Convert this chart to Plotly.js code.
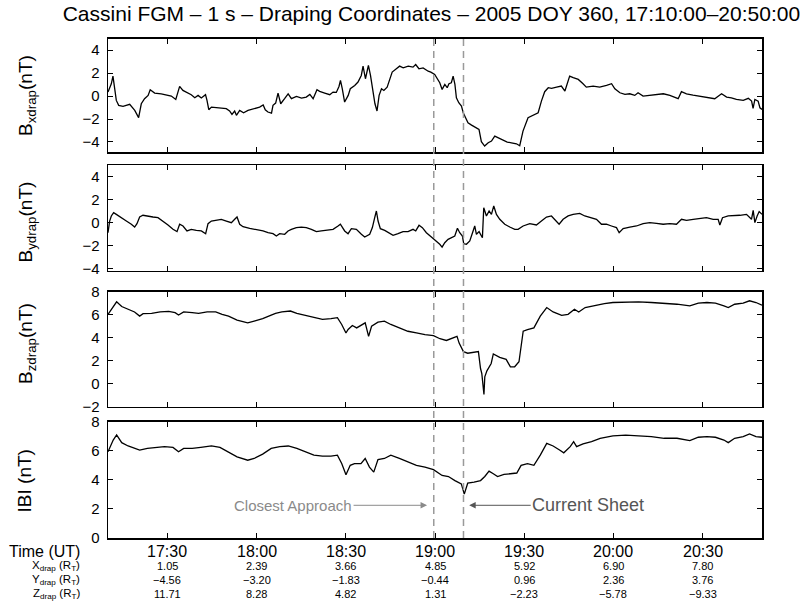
<!DOCTYPE html>
<html>
<head>
<meta charset="utf-8">
<script src="https://cdn.plot.ly/plotly-3.0.1.min.js"></script>
<style>html,body{margin:0;padding:0;background:#fff;}#chart{width:806px;height:612px;}</style>
</head>
<body>
<div id="chart"></div>
<script>
// ---- data (time in minutes after 17:10:00 UT, 2005 DOY 360) ----
const bxT = [0,1.12,1.68,2.8,3.6,5.05,7.3,9.0,10.3,11.2,12.3,13.5,14.2,15.7,17.9,19.6,21.3,22.8,24.1,25.2,26.9,28.0,29.2,30.3,31.4,32.8,33.3,33.9,34.8,37.0,39.8,40.9,41.7,42.6,43.2,44.3,45.6,47.1,48.8,51.0,52.2,52.9,53.8,55.0,55.5,56.4,57.2,58.1,59.4,60.6,61.7,63.4,65.1,66.7,67.9,69.0,70.3,71.2,72.9,74.6,75.7,76.8,77.7,78.2,78.8,79.6,80.8,81.5,83.0,84.1,85.2,85.8,86.6,86.9,87.6,88.3,88.9,89.8,90.5,91.2,92.0,92.8,93.9,94.8,95.6,97.0,98.1,99.3,101.0,102.6,103.5,104.6,106.0,107.7,108.6,109.9,110.5,111.6,112.4,113.3,114.1,114.7,115.5,116.1,116.7,117.2,118.0,118.9,119.5,120.4,121.1,122.3,123.4,124.8,125.6,126.7,127.9,129.0,130.1,131.2,132.9,134.3,135.7,137.4,138.5,139.6,141.3,143.0,144.7,145.8,146.9,148.1,149.2,150.9,152.5,153.7,154.2,155.3,156.5,158.2,159.8,160.9,163.2,165.4,167.7,169.4,170.5,172.2,173.9,175.5,177.2,178.3,180.0,182.3,184.5,186.8,189.0,191.8,192.9,194.6,196.8,199.1,201.3,204.1,206.4,208.1,209.7,211.4,213.7,215.4,216.5,217.0,217.6,218.7,219.3,220];
const bxV = [0.35,1.07,1.74,-0.38,-0.81,-0.9,-0.72,-1.25,-1.88,-0.67,-0.23,0.06,0.55,0.26,0.2,0.12,0,-0.29,0.84,0.49,0.26,0.12,-0.14,0.06,-0.17,0.12,-0.38,-1.19,-0.96,-1.04,-1.1,-1.3,-1.59,-1.3,-1.68,-1.25,-1.45,-1.25,-1.13,-0.96,-0.78,-1.19,-1.39,-1.48,-0.81,-0.61,0.26,-0.67,-0.23,0.2,-0.23,-0.03,-0.17,-0.09,0.14,-0.23,0.55,0.41,0.26,0.12,0.35,0.32,0.84,1.36,0.64,-0.52,0.06,0.64,0.93,1.22,1.8,2.61,1.51,1.94,2.67,1.8,0.78,-0.67,-1.3,0.06,0.64,0.49,0.78,1.51,2.09,2.38,2.61,2.46,2.61,2.52,2.75,2.38,2.46,2.17,2.09,1.88,1.6,1.16,0.58,1.02,0.73,1.08,1.16,1.74,1.02,-0.15,-0.58,-0.87,-1.45,-1.89,-2.33,-2.53,-2.7,-2.91,-3.98,-4.36,-4.07,-3.92,-3.49,-3.63,-3.87,-4.01,-4.07,-4.16,-4.33,-3.05,-1.89,-1.66,-1.45,-0.44,0.38,0.73,0.67,0.78,0.87,0.44,0.87,1.74,1.6,1.45,1.08,0.78,0.87,0.78,0.93,1.08,0.64,0.29,0.15,0.2,0.06,0.29,0,0.06,0.15,0.2,0.06,-0.23,0.38,0.2,0.09,0,-0.09,-0.23,0.2,-0.09,-0.15,-0.29,-0.38,-0.2,-0.44,-1.08,-0.29,-0.44,-1.02,-1.16];

const byT = [0,0.56,1.12,1.91,2.8,3.7,4.82,6.17,7.85,8.97,9.76,10.66,11.78,14.02,15.14,16.82,18.51,20.19,21.87,23.22,24.11,25.24,26.58,28.04,29.72,31.4,32.86,33.65,34.77,36.45,38.13,39.82,41.5,42.62,43.41,44.3,45.42,47.67,49.91,52.15,53.84,55.52,56.64,57.76,59.44,60.57,61.69,63.37,65.05,66.73,68.42,70.1,71.78,73.46,75.71,77.39,78.17,79.63,80.75,81.88,83.56,85.24,86.36,88.04,88.94,89.73,90.29,90.85,91.63,93.09,94.77,95.9,97.58,99.26,100.94,102.63,103.52,104.64,105.76,107.11,108.79,110.47,111.6,112.39,113.29,114.41,115.53,116.65,117.55,118.33,119.23,119.68,120.58,121.7,122.82,123.38,123.94,124.84,125.62,125.96,126.41,127.31,128.2,128.99,129.77,130.67,131.79,133.48,135.16,136.84,137.96,139.64,141.89,144.13,145.81,147.5,149.18,150.3,151.76,153.1,154.79,156.47,158.71,160.39,162.08,164.32,166.0,167.68,169.37,171.05,171.95,173.29,175.54,177.78,180.02,182.26,184.51,186.75,188.99,191.24,192.92,194.6,196.85,199.09,201.33,203.57,205.26,205.82,206.72,208.62,210.3,212.55,214.79,216.47,217.04,217.6,218.38,219.05,220];
const byV = [-0.87,0.14,0.58,0.87,0.72,0.58,0.38,0.14,-0.14,-0.38,-0.09,0.49,0.64,0.58,0.49,0.43,0.14,-0.2,-0.58,-0.78,-0.14,-0.29,-0.72,-0.58,-0.67,-0.72,-0.96,-0.09,0.14,0.23,0.29,0.14,0,0.29,0.49,-0.14,-0.35,-0.49,-0.58,-0.72,-0.87,-0.96,-1.16,-0.96,-1.01,-0.72,-0.58,-0.43,-0.38,-0.43,-0.58,-0.78,-0.72,-0.67,-0.58,-0.29,-0.14,-0.72,-0.96,-0.52,-0.58,-1.01,-1.25,-1.01,-0.43,0.43,1.01,0.14,-0.52,-0.67,-0.96,-1.1,-0.96,-0.78,-0.78,-0.58,-0.72,-0.23,-0.43,-0.87,-1.25,-1.59,-1.88,-2.12,-1.74,-1.45,-1.3,-1.16,-0.49,-0.87,-1.16,-1.83,-1.88,-1.59,-0.72,-0.29,-1.01,-0.78,-1.16,-1.3,1.3,0.58,1.01,0.72,1.45,0.72,0.29,-0.14,-0.38,-0.58,-0.58,-0.29,-0.09,-0.2,0.14,0.49,0.58,0.29,-0.14,0.29,0.58,0.72,0.81,0.58,0.43,0.29,-0.14,-0.14,-0.29,-0.43,-0.87,-0.52,-0.38,-0.29,-0.09,0,-0.06,-0.14,-0.09,-0.14,0.29,0.2,0.29,0.38,0.43,0.29,0.29,-0.2,0.43,0.58,0.58,0.64,0.72,0.29,1.07,0,0.58,0.96,0.72];

const bzT = [0,1.75,2.9,4.63,6.78,8.94,10.66,11.81,14.68,17.56,20.43,22.59,23.74,25.46,28.33,30.49,33.36,36.24,38.39,40.55,43.42,47.01,49.17,52.04,54.91,56.35,58.51,61.38,63.53,66.41,69.28,72.16,75.03,77.18,78.62,80.06,80.78,82.21,83.65,85.09,86.52,87.67,88.68,90.83,92.99,95.14,98.02,100.89,103.76,106.64,109.51,111.67,113.82,115.98,117.41,118.13,119.57,121.01,123.16,124.6,125.32,125.75,126.47,126.75,127.47,128.91,129.63,131.78,133.94,135.37,136.81,138.25,139.68,141.12,143.28,145.43,147.59,149.74,152.61,154.77,156.93,158.36,160.52,164.11,166.98,169.86,174.17,178.48,182.79,187.1,191.41,195.72,198.59,201.47,204.34,207.21,208.65,210.8,213.68,215.83,217.99,220];
const bzV = [6.03,6.76,7.12,6.71,6.47,6.24,5.88,6.09,6.12,6.24,6.29,6.18,5.97,6.24,6.18,6.12,6.24,6.24,6.03,5.88,5.53,5.29,5.44,5.65,5.97,6.12,6.24,6.32,6.12,5.94,5.74,5.59,5.65,5.74,5.15,4.41,4.71,5.06,4.85,5.06,5.29,4.12,5.0,5.35,5.44,5.15,4.85,4.56,4.41,4.26,4.18,3.91,3.76,3.97,4.12,3.53,2.79,2.65,2.71,2.79,1.32,0.88,-0.94,0.59,1.12,1.76,2.59,2.29,2.12,1.47,1.47,1.91,4.56,4.71,4.85,5.88,6.62,6.24,5.94,6.03,6.47,6.24,6.62,6.82,6.97,7.06,7.12,7.12,7.06,7.0,6.91,6.76,7.0,7.06,7.0,6.76,6.62,6.91,7.0,7.21,7.06,6.82];

const bmT = [0,1.75,2.9,4.63,6.78,8.94,10.66,13.25,16.12,19.0,21.87,23.74,25.46,28.33,31.21,34.8,37.67,40.55,43.42,47.01,49.17,52.04,54.91,57.79,60.66,63.53,66.41,69.28,72.16,75.03,77.18,78.62,80.06,81.49,82.93,85.09,86.52,87.96,89.4,90.83,92.99,95.14,98.02,100.89,103.76,106.64,109.51,112.39,114.54,116.7,118.85,119.86,121.01,123.16,125.32,126.75,128.19,129.63,131.06,133.22,135.37,137.53,138.97,141.12,143.28,145.43,147.59,149.74,151.9,153.33,155.49,156.64,157.64,159.8,162.67,165.55,169.86,174.17,178.48,182.79,187.1,191.41,195.72,198.59,201.47,204.34,207.21,208.65,210.8,213.68,215.83,217.99,220];
const bmV = [5.93,6.74,7.09,6.56,6.33,6.16,6.05,6.16,6.23,6.28,6.23,5.93,6.16,6.16,6.23,6.33,6.23,5.93,5.58,5.35,5.47,5.77,6.16,6.28,6.33,6.16,5.93,5.70,5.63,5.63,5.70,5.12,4.35,5.0,5.12,5.12,5.47,4.88,4.53,5.40,5.47,5.70,5.47,5.23,5.0,4.88,4.70,4.30,4.23,3.95,3.72,3.02,3.77,3.84,3.95,4.23,4.60,4.42,4.23,4.37,4.42,4.47,5.0,5.12,5.0,5.70,6.51,6.33,6.05,5.86,6.28,6.63,6.28,6.47,6.63,6.86,7.02,7.07,7.02,6.98,6.86,6.86,6.70,6.93,6.98,6.93,6.74,6.56,6.86,6.98,7.16,6.98,6.93];

// ---- event times and bottom table ----
const eventTimes = ['2005-12-26 18:59:35', '2005-12-26 19:09:35'];
const eventLabels = ['Closest Approach', 'Current Sheet'];
const tickTimes = ['2005-12-26 17:30', '2005-12-26 18:00', '2005-12-26 18:30', '2005-12-26 19:00', '2005-12-26 19:30', '2005-12-26 20:00', '2005-12-26 20:30'];
const timeLabels = ['17:30', '18:00', '18:30', '19:00', '19:30', '20:00', '20:30'];
const xDrap = [1.05, 2.39, 3.66, 4.85, 5.92, 6.90, 7.80];
const yDrap = [-4.56, -3.20, -1.83, -0.44, 0.96, 2.36, 3.76];
const zDrap = [11.71, 8.28, 4.82, 1.31, -2.23, -5.78, -9.33];
const rowLabels = ['Time (UT)', 'X<sub>drap</sub> (R<sub>T</sub>)', 'Y<sub>drap</sub> (R<sub>T</sub>)', 'Z<sub>drap</sub> (R<sub>T</sub>)'];
const panelTitles = ['B<sub>xdrap</sub>(nT)', 'B<sub>ydrap</sub>(nT)', 'B<sub>zdrap</sub>(nT)', 'IBI (nT)'];

// ---- helpers ----
const base = Date.UTC(2005, 11, 26, 17, 10, 0);
function toTime(m) {
  return new Date(base + m * 60000).toISOString().slice(0, 19).replace('T', ' ');
}
function fmt(v) { return v.toFixed(2).replace('-', '\u2212'); }

const FONT = '"Liberation Sans", Arial, Helvetica, sans-serif';
const line = {color: '#000', width: 1.3};

const traces = [
  {x: bxT.map(toTime), y: bxV, xaxis: 'x', yaxis: 'y'},
  {x: byT.map(toTime), y: byV, xaxis: 'x2', yaxis: 'y2'},
  {x: bzT.map(toTime), y: bzV, xaxis: 'x3', yaxis: 'y3'},
  {x: bmT.map(toTime), y: bmV, xaxis: 'x4', yaxis: 'y4'}
].map(t => Object.assign(t, {type: 'scatter', mode: 'lines', line: line, showlegend: false, hoverinfo: 'skip'}));

const xRange = ['2005-12-26 17:10:00', '2005-12-26 20:50:00'];
function xax(anchor) {
  return {type: 'date', range: xRange, anchor: anchor, domain: [0, 1],
    showline: true, linecolor: '#000', linewidth: 1.5, mirror: 'ticks',
    ticks: 'inside', ticklen: 5, tickwidth: 1, tickcolor: '#000',
    tickmode: 'array', tickvals: tickTimes, showticklabels: false,
    showgrid: false, zeroline: false, fixedrange: true};
}
function yax(domain, range, tv, anchor) {
  return {domain: domain, range: range, anchor: anchor,
    showline: true, linecolor: '#000', linewidth: 1.5, mirror: 'ticks',
    ticks: 'inside', ticklen: 5, tickwidth: 1, tickcolor: '#000',
    tickmode: 'array', tickvals: tv, ticklabelstandoff: 4,
    tickfont: {family: FONT, size: 15, color: '#000'},
    showgrid: false, zeroline: false, fixedrange: true};
}

const annotations = [];
// panel titles (rotated)
const titleY = [0.886, 0.633, 0.39, 0.115];
const titleX = [-0.1239, -0.1239, -0.1239, -0.1270];
panelTitles.forEach((t, i) => annotations.push({
  text: t, xref: 'paper', yref: 'paper', x: titleX[i], y: titleY[i],
  xanchor: 'center', yanchor: 'middle', textangle: -90, showarrow: false,
  font: {family: FONT, size: 19, color: '#000'}
}));
// bottom table
const rowY = [-0.026, -0.056, -0.084, -0.112];
rowLabels.forEach((t, i) => annotations.push({
  text: t, xref: 'paper', yref: 'paper', x: -0.04, y: rowY[i],
  xanchor: 'right', yanchor: 'middle', showarrow: false,
  font: {family: FONT, size: i === 0 ? 16 : 11.5, color: '#000'}
}));
tickTimes.forEach((tt, i) => {
  const cells = [timeLabels[i], fmt(xDrap[i]), fmt(yDrap[i]), fmt(zDrap[i])];
  cells.forEach((c, r) => annotations.push({
    text: c, xref: 'x4', yref: 'paper', x: tt, y: rowY[r],
    xanchor: 'center', yanchor: 'middle', showarrow: false,
    font: {family: FONT, size: r === 0 ? 16 : 11, color: '#000'}
  }));
});
// event arrows
annotations.push({
  text: eventLabels[0], xref: 'x4', yref: 'y4', x: '2005-12-26 18:57:20', y: 2.25,
  ax: -134, ay: 0, showarrow: true, arrowhead: 2, arrowsize: 1.3, arrowwidth: 1,
  arrowcolor: '#8a8a8a', font: {family: FONT, size: 15, color: '#8a8a8a'}
});
annotations.push({
  text: eventLabels[1], xref: 'x4', yref: 'y4', x: '2005-12-26 19:11:30', y: 2.25,
  ax: 119, ay: 0, showarrow: true, arrowhead: 2, arrowsize: 1.3, arrowwidth: 1,
  arrowcolor: '#555', font: {family: FONT, size: 18, color: '#555'}
});

const shapes = eventTimes.map(t => ({
  type: 'line', xref: 'x', yref: 'paper', x0: t, x1: t, y0: 0, y1: 1,
  line: {color: '#9a9a9a', width: 1.5, dash: '7px,5px'}
}));

const layout = {
  width: 806, height: 612,
  margin: {l: 108, r: 44, t: 38, b: 74, pad: 0},
  paper_bgcolor: '#fff', plot_bgcolor: '#fff',
  font: {family: FONT, color: '#000'},
  title: {text: 'Cassini FGM \u2013 1 s \u2013 Draping Coordinates \u2013 2005 DOY 360, 17:10:00\u201320:50:00',
    font: {family: FONT, size: 21, color: '#000'}, x: 0.4945, xref: 'paper', xanchor: 'center', y: 0.977, yanchor: 'middle'},
  xaxis: xax('y'), xaxis2: xax('y2'), xaxis3: xax('y3'), xaxis4: xax('y4'),
  yaxis: yax([0.7714, 0.9986], [-4.9, 5], [-4, -2, 0, 2, 4], 'x'),
  yaxis2: yax([0.535, 0.746], [-4.15, 5], [-4, -2, 0, 2, 4], 'x2'),
  yaxis3: yax([0.2626, 0.4926], [-2, 8], [-2, 0, 2, 4, 6, 8], 'x3'),
  yaxis4: yax([0, 0.2326], [0, 8], [0, 2, 4, 6, 8], 'x4'),
  annotations: annotations,
  shapes: shapes
};

Plotly.newPlot('chart', traces, layout, {staticPlot: true, displayModeBar: false});
</script>
</body>
</html>
